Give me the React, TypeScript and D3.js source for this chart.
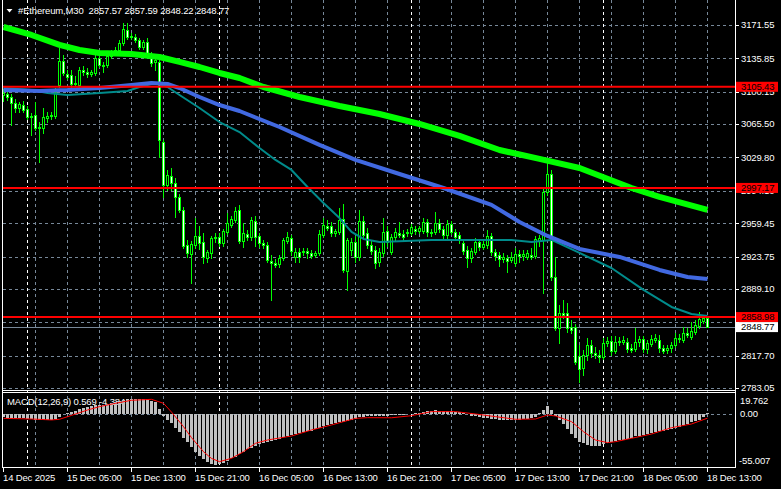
import React from 'react';
import * as d3 from 'd3';

const W = 781;
const H = 489;

// ---- OHLC data (M30 bars, 14 Dec 21:00 .. 18 Dec 13:00) ----
const opens = [
  3096.7, 3097.7, 3094.5, 3088.1, 3082.7, 3085.9, 3081.7, 3073.1, 3075.3, 3061.3,
  3061.3, 3072.1, 3074.2, 3074.2, 3107.3, 3133.0, 3119.1, 3118.1, 3108.4, 3107.3,
  3123.4, 3121.3, 3119.1, 3120.2, 3136.2, 3128.7, 3128.7, 3138.4, 3141.6, 3144.8,
  3152.3, 3166.2, 3158.7, 3158.7, 3155.5, 3148.0, 3153.4, 3136.2, 3132.0, 3132.0,
  3046.4, 3000.4, 3010.0, 3002.5, 2987.5, 2973.6, 2936.2, 2926.5, 2936.2, 2945.8,
  2939.4, 2922.2, 2927.6, 2943.6, 2944.7, 2938.3, 2950.1, 2957.6, 2962.9, 2973.6,
  2940.4, 2947.9, 2944.7, 2961.8, 2945.8, 2938.3, 2936.2, 2919.0, 2916.9, 2915.8,
  2922.2, 2940.4, 2943.6, 2923.3, 2928.7, 2928.7, 2929.7, 2927.6, 2925.4, 2927.6,
  2946.9, 2956.5, 2956.5, 2949.0, 2950.1, 2964.0, 2908.3, 2930.8, 2939.4, 2923.3,
  2961.8, 2949.0, 2936.2, 2930.8, 2918.0, 2927.6, 2951.1, 2928.7, 2944.7, 2949.0,
  2947.9, 2949.0, 2949.0, 2953.3, 2951.1, 2951.1, 2960.8, 2950.1, 2950.1, 2959.7,
  2953.3, 2946.9, 2958.6, 2950.1, 2946.9, 2938.3, 2930.8, 2922.2, 2928.7, 2939.4,
  2934.0, 2936.2, 2945.8, 2928.7, 2925.4, 2921.2, 2922.2, 2920.1, 2916.9, 2926.5,
  2924.4, 2923.3, 2925.4, 2924.4, 2940.4, 2941.5, 2992.9, 3012.1, 2901.9, 2847.3,
  2863.4, 2863.4, 2848.4, 2848.4, 2817.4, 2804.5, 2818.4, 2829.2, 2820.6, 2818.4,
  2816.3, 2831.3, 2833.4, 2822.7, 2832.4, 2832.4, 2832.4, 2825.9, 2824.9, 2832.4,
  2835.6, 2824.9, 2830.2, 2834.5, 2834.5, 2825.9, 2823.8, 2825.9, 2829.2, 2835.6,
  2834.5, 2842.0, 2837.7, 2843.1, 2849.5, 2854.8, 2857.57,
];
const highs = [
  3103.1, 3099.9, 3097.7, 3092.4, 3089.2, 3090.2, 3084.9, 3077.4, 3089.2, 3067.7,
  3082.7, 3078.5, 3078.5, 3104.1, 3146.9, 3139.5, 3123.4, 3123.4, 3117.0, 3126.6,
  3127.7, 3125.5, 3123.4, 3139.5, 3142.7, 3132.0, 3142.7, 3144.8, 3148.0, 3155.5,
  3173.7, 3173.7, 3163.0, 3161.9, 3157.7, 3155.5, 3157.7, 3142.7, 3137.3, 3138.4,
  3048.5, 3016.4, 3018.5, 3007.8, 2990.7, 2976.8, 2941.5, 2940.4, 2965.0, 2956.5,
  2949.0, 2930.8, 2945.8, 2949.0, 2949.0, 2953.3, 2970.4, 2967.2, 2976.8, 2979.0,
  2959.7, 2952.2, 2966.1, 2967.2, 2949.0, 2941.5, 2939.4, 2925.4, 2921.2, 2925.4,
  2943.6, 2950.1, 2946.9, 2932.9, 2932.9, 2932.9, 2932.9, 2930.8, 2929.7, 2952.2,
  2965.0, 2962.9, 2960.8, 2953.3, 2975.7, 2980.0, 2943.6, 2943.6, 2945.8, 2973.6,
  2967.2, 2954.3, 2940.4, 2935.1, 2932.9, 2965.0, 2956.5, 2947.9, 2954.3, 2960.8,
  2952.2, 2953.3, 2958.6, 2956.5, 2956.5, 2965.0, 2964.0, 2953.3, 2971.5, 2964.0,
  2956.5, 2962.9, 2961.8, 2953.3, 2950.1, 2941.5, 2935.1, 2932.9, 2943.6, 2942.6,
  2940.4, 2952.2, 2949.0, 2931.9, 2928.7, 2927.6, 2925.4, 2928.7, 2932.9, 2930.8,
  2930.8, 2930.8, 2932.9, 2945.8, 2946.9, 2997.1, 3023.9, 3016.4, 2923.3, 2871.9,
  2877.3, 2874.1, 2855.9, 2851.6, 2829.2, 2823.8, 2836.7, 2834.5, 2827.0, 2823.8,
  2836.7, 2837.7, 2838.8, 2838.8, 2837.7, 2838.8, 2836.7, 2830.2, 2847.3, 2838.8,
  2838.8, 2834.5, 2839.9, 2840.9, 2839.9, 2829.2, 2829.2, 2832.4, 2842.0, 2840.9,
  2848.4, 2847.3, 2853.8, 2855.9, 2864.5, 2860.2, 2857.59,
];
const lows = [
  3090.2, 3091.3, 3064.5, 3078.5, 3078.5, 3078.5, 3071.0, 3053.9, 3059.2, 3025.0,
  3056.0, 3067.7, 3071.0, 3072.1, 3105.2, 3118.1, 3113.8, 3104.1, 3106.3, 3104.1,
  3118.1, 3115.9, 3117.0, 3118.1, 3126.6, 3121.3, 3126.6, 3136.2, 3139.5, 3142.7,
  3150.2, 3156.6, 3156.6, 3153.4, 3145.9, 3145.9, 3139.5, 3127.7, 3123.4, 3030.3,
  2987.5, 2995.0, 2995.0, 2966.1, 2971.5, 2932.9, 2923.3, 2895.5, 2932.9, 2931.9,
  2916.9, 2918.0, 2922.2, 2939.4, 2935.1, 2935.1, 2947.9, 2955.4, 2960.8, 2938.3,
  2934.0, 2941.5, 2941.5, 2935.1, 2934.0, 2932.9, 2918.0, 2877.3, 2912.6, 2912.6,
  2920.1, 2938.3, 2925.4, 2918.0, 2918.0, 2925.4, 2922.2, 2922.2, 2923.3, 2925.4,
  2944.7, 2952.2, 2945.8, 2945.8, 2947.9, 2907.3, 2888.0, 2925.4, 2918.0, 2920.1,
  2943.6, 2932.9, 2926.5, 2911.5, 2913.7, 2924.4, 2935.1, 2926.5, 2941.5, 2944.7,
  2941.5, 2945.8, 2946.9, 2947.9, 2949.0, 2949.0, 2945.8, 2945.8, 2947.9, 2950.1,
  2943.6, 2943.6, 2947.9, 2941.5, 2938.3, 2926.5, 2912.6, 2918.0, 2926.5, 2930.8,
  2931.9, 2932.9, 2925.4, 2920.1, 2913.7, 2918.0, 2907.3, 2918.0, 2913.7, 2918.0,
  2920.1, 2921.2, 2921.2, 2922.2, 2935.1, 2884.8, 2989.7, 2898.7, 2845.2, 2831.3,
  2858.0, 2843.1, 2842.0, 2808.8, 2789.6, 2797.1, 2813.1, 2816.3, 2815.2, 2811.0,
  2814.2, 2828.1, 2818.4, 2820.6, 2829.2, 2830.2, 2821.7, 2821.7, 2822.7, 2828.1,
  2821.7, 2820.6, 2828.1, 2832.4, 2821.7, 2820.6, 2820.6, 2821.7, 2827.0, 2832.4,
  2832.4, 2837.7, 2835.6, 2840.9, 2847.3, 2852.7, 2848.22,
];
const closes = [
  3098.8, 3094.5, 3088.1, 3082.7, 3087.0, 3080.6, 3073.1, 3074.2, 3061.3, 3062.4,
  3073.1, 3074.2, 3075.3, 3099.9, 3133.0, 3120.2, 3115.9, 3108.4, 3109.5, 3123.4,
  3121.3, 3119.1, 3121.3, 3136.2, 3128.7, 3127.7, 3138.4, 3141.6, 3144.8, 3152.3,
  3167.3, 3158.7, 3159.8, 3155.5, 3148.0, 3153.4, 3141.6, 3130.9, 3134.1, 3048.5,
  3000.4, 3011.1, 3002.5, 2987.5, 2973.6, 2935.1, 2927.6, 2937.2, 2945.8, 2938.3,
  2923.3, 2928.7, 2943.6, 2944.7, 2938.3, 2951.1, 2959.7, 2964.0, 2972.5, 2940.4,
  2949.0, 2944.7, 2962.9, 2944.7, 2938.3, 2936.2, 2920.1, 2916.9, 2914.8, 2922.2,
  2941.5, 2944.7, 2929.7, 2928.7, 2923.3, 2929.7, 2927.6, 2924.4, 2927.6, 2947.9,
  2957.6, 2954.3, 2949.0, 2951.1, 2962.9, 2909.4, 2941.5, 2939.4, 2923.3, 2961.8,
  2946.9, 2936.2, 2929.7, 2916.9, 2928.7, 2950.1, 2939.4, 2944.7, 2950.1, 2946.9,
  2944.7, 2950.1, 2955.4, 2951.1, 2954.3, 2960.8, 2950.1, 2949.0, 2959.7, 2953.3,
  2946.9, 2958.6, 2950.1, 2944.7, 2941.5, 2929.7, 2922.2, 2929.7, 2939.4, 2934.0,
  2937.2, 2945.8, 2928.7, 2924.4, 2921.2, 2923.3, 2919.0, 2923.3, 2926.5, 2924.4,
  2926.5, 2927.6, 2923.3, 2942.6, 2943.6, 2992.9, 3012.1, 2901.9, 2847.3, 2863.4,
  2861.3, 2847.3, 2845.2, 2810.9, 2803.5, 2818.4, 2829.2, 2820.6, 2818.4, 2816.3,
  2831.3, 2833.4, 2822.7, 2832.4, 2833.4, 2834.5, 2824.9, 2823.8, 2832.4, 2835.6,
  2824.9, 2831.3, 2835.6, 2836.7, 2825.9, 2822.7, 2825.9, 2829.2, 2836.7, 2836.7,
  2842.0, 2839.9, 2844.1, 2850.6, 2857.0, 2858.0, 2848.77,
];

// ---- Moving averages (bar index, value) ----
const maSlowIdx = [0, 7, 14, 19, 24, 32, 39, 44, 49, 54, 59, 65, 74, 84, 94, 104, 114, 124, 134, 144, 157, 164, 176];
const maSlowVal = [3169.4, 3160.9, 3150.2, 3144.8, 3141.6, 3140.5, 3137.3, 3132.0, 3126.6, 3120.2, 3114.8, 3105.2, 3094.5, 3084.9, 3076.3, 3065.6, 3052.8, 3037.8, 3028.2, 3018.5, 2997.1, 2987.5, 2973.6];
const maMidIdx = [0, 9, 16, 24, 32, 37, 41, 44, 49, 54, 59, 69, 79, 88, 99, 110, 122, 129, 136, 144, 154, 164, 171, 176];
const maMidVal = [3102.0, 3100.9, 3102.0, 3104.1, 3107.3, 3109.5, 3108.4, 3104.1, 3094.5, 3085.9, 3079.5, 3062.4, 3043.2, 3027.1, 3012.1, 2997.1, 2979.0, 2960.8, 2945.8, 2931.9, 2923.3, 2909.4, 2901.9, 2899.8];
const maFastIdx = [0, 7, 11, 16, 24, 31, 34, 38, 41, 44, 49, 54, 59, 64, 68, 72, 76, 80, 84, 87, 90, 94, 107, 117, 127, 132, 137, 144, 152, 160, 167, 172, 176];
const maFastVal = [3104.1, 3102.0, 3098.8, 3096.6, 3098.8, 3100.9, 3105.2, 3109.5, 3105.2, 3096.6, 3082.7, 3067.7, 3057.0, 3039.9, 3027.1, 3016.4, 2998.2, 2981.1, 2964.9, 2950.1, 2942.6, 2939.4, 2941.5, 2941.5, 2941.5, 2939.4, 2941.5, 2927.6, 2911.5, 2888.0, 2869.8, 2862.3, 2860.2];

// ---- MACD(12,26,9) histogram per bar and signal line ----
const macdHist = [
  -3.5, -3.8, -4.0, -4.2, -4.3, -4.5, -4.8, -5.5, -6.0, -6.5,
  -6.8, -6.6, -6.3, -5.5, -3.0, -0.5, 1.0, 2.0, 3.0, 5.0,
  6.5, 7.5, 8.0, 9.0, 9.5, 10.0, 11.0, 12.0, 12.8, 13.5,
  15.0, 15.8, 16.0, 16.2, 16.0, 15.8, 15.5, 14.0, 12.5, 5.0,
  -2.0, -6.0, -10.0, -15.0, -19.0, -25.0, -30.0, -35.0, -40.0, -44.0,
  -48.0, -51.0, -53.0, -53.5, -53.0, -51.5, -49.5, -47.0, -45.0, -42.5,
  -40.0, -37.5, -35.5, -34.0, -32.0, -30.5, -29.5, -28.5, -27.5, -26.0,
  -24.5, -23.0, -22.0, -21.5, -20.5, -19.5, -18.5, -17.5, -16.0, -14.5,
  -13.0, -12.0, -11.0, -10.0, -9.0, -8.5, -7.0, -6.0, -5.0, -3.5,
  -3.0, -2.5, -2.0, -2.0, -2.5, -2.0, -2.0, -1.5, -1.5, -1.0,
  -1.0, -0.5, 0.5, 1.0, 1.5, 2.5, 3.0, 3.5, 4.0, 3.5,
  3.5, 3.5, 3.0, 2.5, 2.0, 1.0, -0.5, -2.0, -2.5, -3.5,
  -4.0, -4.5, -5.0, -5.5, -6.0, -6.0, -6.0, -6.0, -6.0, -6.0,
  -5.5, -5.0, -4.5, -3.0, 1.5, 4.0, 8.5, 4.0, -2.0, -6.0,
  -11.0, -16.0, -21.0, -25.5, -29.5, -31.0, -32.5, -33.5, -34.0, -34.0,
  -32.0, -30.5, -29.5, -28.5, -28.0, -27.0, -26.0, -25.0, -23.5, -23.0,
  -22.0, -21.0, -20.0, -19.0, -18.5, -17.5, -17.0, -16.0, -14.5, -13.5,
  -12.0, -10.5, -9.0, -7.5, -6.0, -3.0, 0.569,
];
const signalIdx = [0, 7, 12, 14, 17, 21, 24, 28, 32, 37, 40, 42, 45, 47, 50, 52, 54, 57, 60, 63, 66, 72, 77, 82, 88, 91, 97, 102, 107, 113, 118, 123, 128, 133, 136, 138, 142, 145, 148, 151, 153, 157, 162, 167, 172, 176];
const signalVal = [-4.6, -5.3, -6.3, -5.6, -1.5, 4.2, 7.8, 11.3, 14.5, 15.5, 11.3, 2.0, -13.4, -25.0, -39.9, -47.0, -50.4, -46.9, -39.9, -31.0, -27.5, -23.3, -16.9, -11.6, -4.6, -3.9, -4.0, -1.8, 2.5, 2.5, 0.0, -2.8, -5.6, -5.3, -1.1, -2.1, -8.1, -18.7, -27.5, -30.3, -29.3, -25.7, -21.2, -14.5, -10.6, -4.384];

// ---- axis / annotation values ----
const priceTicks = [3171.55, 3135.85, 3100.15, 3065.50, 3029.80, 2994.10, 2959.45, 2923.75, 2889.10, 2853.40, 2817.70, 2783.05];
const hiddenPriceLabels = [2853.40];
const levelLines = [3105.43, 2997.17, 2858.98];
const bidPrice = 2848.77;
const macdTicks = [19.762, 0.0, -55.007];
const timeLabels = ['14 Dec 2025', '15 Dec 05:00', '15 Dec 13:00', '15 Dec 21:00', '16 Dec 05:00', '16 Dec 13:00', '16 Dec 21:00', '17 Dec 05:00', '17 Dec 13:00', '17 Dec 21:00', '18 Dec 05:00', '18 Dec 13:00'];
const timeLabelBars = [0, 16, 32, 48, 64, 80, 96, 112, 128, 144, 160, 176];
const daySeparatorBars = [6, 54, 102, 150];
const titleText = '#Ethereum,M30  2857.57 2857.59 2848.22 2848.77';
const macdTitle = 'MACD(12,26,9) 0.569 -4.384';

const FONT = 'Liberation Sans, Arial, sans-serif';
const FS = 9.5;
const LS = -0.15;
const GRID = '#778899';
const LIME = '#00ff00';

export default function App() {
  const n = closes.length;
  const plotL = 3;
  const plotR = 735;
  const mainBottom = 390.5;
  const macdTop = 392.5;
  const macdBottom = 467.5;

  const x = d3.scaleLinear().domain([0, n - 1]).range([3.5, 3.5 + 4 * (n - 1)]);
  const yP = d3.scaleLinear().domain([2783.05, 3171.55]).range([388, 25]);
  const yM = d3.scaleLinear().domain([-55.007, 19.762]).range([466, 395.3]);

  const lineP = (idx: number[], vals: number[]) =>
    d3.line<number>().x((_, k) => x(idx[k])).y((v) => yP(v))(vals) || '';
  const sigPath = d3.line<number>().x((_, k) => x(signalIdx[k])).y((v) => yM(v))(signalVal) || '';

  const verticalGridBars = d3.range(8, n, 8);
  const zeroY = Math.round(yM(0)) + 0.5;

  return (
    <svg width={W} height={H} style={{ position: 'absolute', left: 0, top: 0, display: 'block' }} fontFamily={FONT}>
      <defs>
        <clipPath id="mainClip"><rect x={plotL} y={0} width={plotR - plotL} height={mainBottom - 0.5} /></clipPath>
        <clipPath id="macdClip"><rect x={plotL} y={macdTop + 0.5} width={plotR - plotL} height={macdBottom - macdTop - 1} /></clipPath>
      </defs>
      <rect x={0} y={0} width={W} height={H} fill="#000" />

      {/* grid main */}
      <g stroke={GRID} strokeWidth={1} strokeDasharray="3,3" shapeRendering="crispEdges">
        {priceTicks.map((p) => (
          <line key={'h' + p} x1={plotL} x2={plotR} y1={Math.round(yP(p)) + 0.5} y2={Math.round(yP(p)) + 0.5} />
        ))}
        {verticalGridBars.map((b) => (
          <line key={'v' + b} x1={x(b)} x2={x(b)} y1={0} y2={macdBottom} />
        ))}
        <line x1={plotL} x2={plotR} y1={zeroY} y2={zeroY} />
      </g>
      <g stroke="#ffffff" strokeWidth={1} strokeDasharray="3,3" shapeRendering="crispEdges">
        {daySeparatorBars.map((b) => (
          <line key={'s' + b} x1={x(b)} x2={x(b)} y1={0} y2={macdBottom} />
        ))}
      </g>

      {/* bid line */}
      <line x1={plotL} x2={plotR} y1={Math.round(yP(bidPrice)) + 0.5} y2={Math.round(yP(bidPrice)) + 0.5} stroke={GRID} strokeWidth={1} shapeRendering="crispEdges" />

      {/* candles */}
      <g clipPath="url(#mainClip)" shapeRendering="crispEdges">
        {closes.map((c, i) => {
          const o = opens[i];
          const cx = x(i);
          const top = Math.round(yP(Math.max(o, c)));
          const bot = Math.round(yP(Math.min(o, c)));
          const hi = Math.round(yP(highs[i]));
          const lo = Math.round(yP(lows[i]));
          const bull = c >= o;
          return (
            <g key={i}>
              <line x1={cx} x2={cx} y1={hi} y2={lo + 1} stroke={LIME} strokeWidth={1} />
              {bot - top < 1 ? (
                <line x1={cx - 1.5} x2={cx + 1.5} y1={top + 0.5} y2={top + 0.5} stroke={LIME} strokeWidth={1} />
              ) : (
                <rect x={cx - 1} y={top + 0.5} width={2} height={bot - top} fill={bull ? '#000' : '#fff'} stroke={LIME} strokeWidth={1} />
              )}
            </g>
          );
        })}
      </g>

      {/* moving averages */}
      <g clipPath="url(#mainClip)" fill="none" strokeLinejoin="round">
        <path d={lineP(maFastIdx, maFastVal)} stroke="#008b8b" strokeWidth={2} />
        <path d={lineP(maMidIdx, maMidVal)} stroke="#4169e1" strokeWidth={4} />
        <path d={lineP(maSlowIdx, maSlowVal)} stroke={LIME} strokeWidth={6} />
      </g>

      {/* level lines */}
      {levelLines.map((p) => (
        <line key={'l' + p} x1={plotL} x2={plotR} y1={yP(p)} y2={yP(p)} stroke="#ff0000" strokeWidth={2} />
      ))}

      {/* MACD panel */}
      <text x={7} y={401.7} dy="0.35em" fontSize={FS} letterSpacing={LS} fill="#ffffff">{macdTitle}</text>
      <g clipPath="url(#macdClip)" shapeRendering="crispEdges">
        {macdHist.map((v, i) => {
          const y0 = yM(0);
          const y1 = yM(v);
          return <rect key={'m' + i} x={x(i) - 1.5} y={Math.min(y0, y1)} width={3} height={Math.max(0.5, Math.abs(y1 - y0))} fill="#c0c0c0" />;
        })}
      </g>
      <path d={sigPath} fill="none" stroke="#ff0000" strokeWidth={1} clipPath="url(#macdClip)" />

      {/* frames */}
      <g stroke="#ffffff" strokeWidth={1} shapeRendering="crispEdges" fill="none">
        <line x1={2.5} x2={2.5} y1={0} y2={macdBottom} />
        <line x1={735.5} x2={735.5} y1={0} y2={macdBottom} />
        <line x1={2.5} x2={735.5} y1={mainBottom} y2={mainBottom} />
        <line x1={2.5} x2={735.5} y1={macdTop} y2={macdTop} />
        <line x1={2.5} x2={735.5} y1={macdBottom} y2={macdBottom} />
        {priceTicks.map((p) => (
          <line key={'pt' + p} x1={736} x2={739} y1={Math.round(yP(p)) + 0.5} y2={Math.round(yP(p)) + 0.5} />
        ))}
        {timeLabelBars.map((b) => (
          <line key={'tt' + b} x1={x(b)} x2={x(b)} y1={macdBottom} y2={macdBottom + 4} />
        ))}
      </g>

      {/* price labels */}
      <g fontSize={FS} letterSpacing={LS} fill="#ffffff">
        {priceTicks.filter((p) => !hiddenPriceLabels.includes(p)).map((p) => (
          <text key={'pl' + p} x={741} y={yP(p)} dy="0.35em">{p.toFixed(2)}</text>
        ))}
        {macdTicks.map((v, k) => (
          <text key={'ml' + v} x={k === 2 ? 739 : 740} y={k === 0 ? 400.3 : k === 2 ? 461 : yM(v)} dy="0.35em">{v.toFixed(v === 0 ? 2 : 3)}</text>
        ))}
        {timeLabels.map((t, k) => (
          <text key={'tl' + t} x={x(timeLabelBars[k]) - 0.5} y={477.3} dy="0.35em">{t}</text>
        ))}
      </g>

      {/* level labels */}
      {levelLines.map((p) => (
        <g key={'lb' + p}>
          <rect x={736} y={yP(p) - 5} width={42} height={10} fill="#ff0000" />
          <text x={741} y={yP(p)} dy="0.35em" fontSize={FS} letterSpacing={LS} fill="#000000">{p.toFixed(2)}</text>
        </g>
      ))}
      <rect x={736} y={yP(bidPrice) - 4.5} width={42} height={10} fill="#ffffff" />
      <text x={741} y={yP(bidPrice) + 0.5} dy="0.35em" fontSize={FS} letterSpacing={LS} fill="#000000">{bidPrice.toFixed(2)}</text>

      {/* title */}
      <path d="M6.5,9 L12.5,9 L9.5,12.5 Z" fill="#ffffff" />
      <text x={18} y={11} dy="0.35em" fontSize={FS} letterSpacing={LS} fill="#ffffff" style={{ whiteSpace: 'pre' }}>{titleText}</text>
    </svg>
  );
}
